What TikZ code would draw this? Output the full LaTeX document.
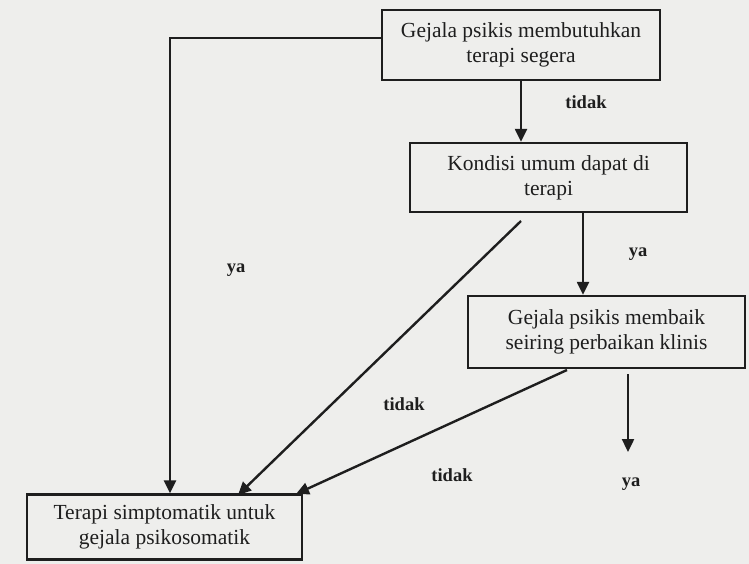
\documentclass[tikz,border=0pt]{standalone}
\usepackage{fontspec}
\setmainfont{Liberation Serif}
\usetikzlibrary{arrows.meta}
\definecolor{paper}{RGB}{238,238,236}
\definecolor{ink}{RGB}{30,30,30}
\begin{document}
\begin{tikzpicture}[x=1pt,y=-1pt,
  box/.style={draw=ink,line width=2.4pt,inner sep=0pt,align=center,
    font=\fontsize{21.5}{25}\selectfont,text=ink},
  conn/.style={draw=ink,line width=2.4pt},
  arr/.style={conn,-{Triangle[length=13pt,width=12pt]}},
  lbl/.style={font=\bfseries\fontsize{18.5}{22}\selectfont,text=ink}]
\fill[paper] (0,0) rectangle (749,564);
\useasboundingbox (0,0) rectangle (749,564);
\node[box,minimum width=278pt,minimum height=70pt] (b1) at (521,45)
  {Gejala psikis membutuhkan\\terapi segera};
\node[box,minimum width=277pt,minimum height=69pt] (b2) at (548.5,177.5)
  {Kondisi umum dapat di\\terapi};
\node[box,minimum width=277pt,minimum height=72pt] (b3) at (606.5,332)
  {Gejala psikis membaik\\seiring perbaikan klinis};
\node[box,minimum width=275pt,minimum height=65pt] (b4) at (164.5,527)
  {Terapi simptomatik untuk\\gejala psikosomatik};
% connectors
\coordinate (s1) at (382,38);
\coordinate (c1) at (170,38);
\draw[arr] (s1) -- (c1) -- (c1 |- b4.north);
\draw[arr] (b1.south) -- (b1.south |- b2.north);
\coordinate (s2) at (583,212);
\draw[arr] (s2) -- (s2 |- b3.north);
\coordinate (s3) at (521,221);
\coordinate (e3) at (238,495);
\draw[arr] (s3) -- (e3);
\coordinate (s4) at (567,370);
\coordinate (e4) at (296,494);
\draw[arr] (s4) -- (e4);
\coordinate (s5) at (628,374);
\coordinate (e5) at (628,452);
\draw[arr] (s5) -- (e5);
% labels
\node[lbl] (l1) at (586,102) {tidak};
\node[lbl] (l2) at (638,254) {ya};
\node[lbl] (l3) at (236,270) {ya};
\node[lbl] (l4) at (404,404) {tidak};
\node[lbl] (l5) at (452,475) {tidak};
\node[lbl] (l6) at (631,484) {ya};
\end{tikzpicture}
\end{document}
